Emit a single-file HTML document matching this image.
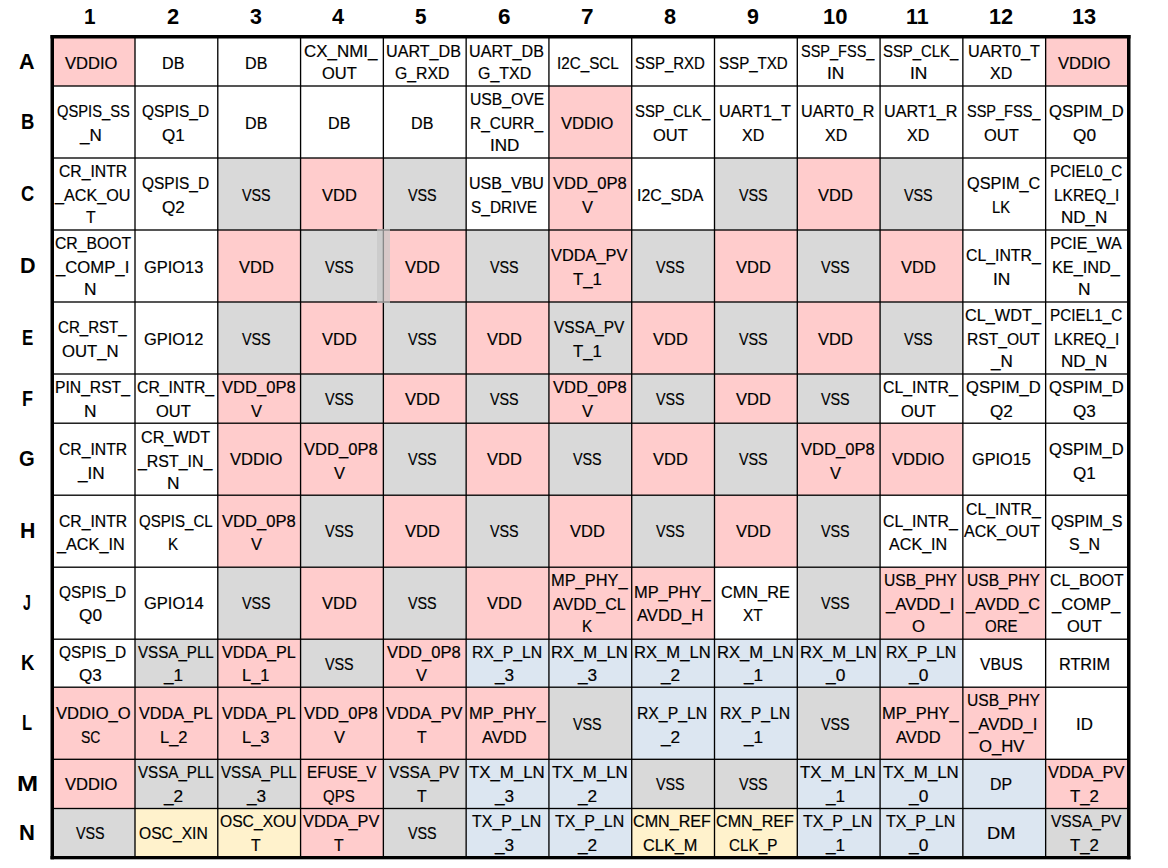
<!DOCTYPE html>
<html><head><meta charset="utf-8"><style>
html,body{margin:0;padding:0;background:#fff;}
body{width:1168px;height:868px;position:relative;overflow:hidden;font-family:"Liberation Sans",sans-serif;color:#000;}
svg{position:absolute;left:0;top:0;}
.t{position:absolute;white-space:nowrap;font-size:17.3px;line-height:20px;height:20px;transform-origin:0 50%;-webkit-text-stroke:0.2px #000;}
.h{position:absolute;font-weight:bold;font-size:22.6px;line-height:24px;white-space:nowrap;transform-origin:0 50%;}
</style></head><body>

<svg width="1168" height="868" viewBox="0 0 1168 868"><rect x="52.25" y="36.75" width="82.75" height="49.25" fill="#FFCCCC"/><rect x="1045.646" y="36.75" width="83.104" height="49.25" fill="#FFCCCC"/><rect x="548.93" y="86" width="82.786" height="72" fill="#FFCCCC"/><rect x="217.786" y="158" width="82.786" height="72" fill="#D9D9D9"/><rect x="300.572" y="158" width="82.786" height="72" fill="#FFCCCC"/><rect x="383.358" y="158" width="82.786" height="72" fill="#D9D9D9"/><rect x="548.93" y="158" width="82.786" height="72" fill="#FFCCCC"/><rect x="714.502" y="158" width="82.786" height="72" fill="#D9D9D9"/><rect x="797.288" y="158" width="82.786" height="72" fill="#FFCCCC"/><rect x="880.074" y="158" width="82.786" height="72" fill="#D9D9D9"/><rect x="217.786" y="230" width="82.786" height="72" fill="#FFCCCC"/><rect x="300.572" y="230" width="82.786" height="72" fill="#D9D9D9"/><rect x="383.358" y="230" width="82.786" height="72" fill="#FFCCCC"/><rect x="466.144" y="230" width="82.786" height="72" fill="#D9D9D9"/><rect x="548.93" y="230" width="82.786" height="72" fill="#FFCCCC"/><rect x="631.716" y="230" width="82.786" height="72" fill="#D9D9D9"/><rect x="714.502" y="230" width="82.786" height="72" fill="#FFCCCC"/><rect x="797.288" y="230" width="82.786" height="72" fill="#D9D9D9"/><rect x="880.074" y="230" width="82.786" height="72" fill="#FFCCCC"/><rect x="217.786" y="302" width="82.786" height="72" fill="#D9D9D9"/><rect x="300.572" y="302" width="82.786" height="72" fill="#FFCCCC"/><rect x="383.358" y="302" width="82.786" height="72" fill="#D9D9D9"/><rect x="466.144" y="302" width="82.786" height="72" fill="#FFCCCC"/><rect x="548.93" y="302" width="82.786" height="72" fill="#D9D9D9"/><rect x="631.716" y="302" width="82.786" height="72" fill="#FFCCCC"/><rect x="714.502" y="302" width="82.786" height="72" fill="#D9D9D9"/><rect x="797.288" y="302" width="82.786" height="72" fill="#FFCCCC"/><rect x="880.074" y="302" width="82.786" height="72" fill="#D9D9D9"/><rect x="217.786" y="374" width="82.786" height="49.2" fill="#FFCCCC"/><rect x="300.572" y="374" width="82.786" height="49.2" fill="#D9D9D9"/><rect x="383.358" y="374" width="82.786" height="49.2" fill="#FFCCCC"/><rect x="466.144" y="374" width="82.786" height="49.2" fill="#D9D9D9"/><rect x="548.93" y="374" width="82.786" height="49.2" fill="#FFCCCC"/><rect x="631.716" y="374" width="82.786" height="49.2" fill="#D9D9D9"/><rect x="714.502" y="374" width="82.786" height="49.2" fill="#FFCCCC"/><rect x="797.288" y="374" width="82.786" height="49.2" fill="#D9D9D9"/><rect x="217.786" y="423.2" width="82.786" height="72" fill="#FFCCCC"/><rect x="300.572" y="423.2" width="82.786" height="72" fill="#FFCCCC"/><rect x="383.358" y="423.2" width="82.786" height="72" fill="#D9D9D9"/><rect x="466.144" y="423.2" width="82.786" height="72" fill="#FFCCCC"/><rect x="548.93" y="423.2" width="82.786" height="72" fill="#D9D9D9"/><rect x="631.716" y="423.2" width="82.786" height="72" fill="#FFCCCC"/><rect x="714.502" y="423.2" width="82.786" height="72" fill="#D9D9D9"/><rect x="797.288" y="423.2" width="82.786" height="72" fill="#FFCCCC"/><rect x="880.074" y="423.2" width="82.786" height="72" fill="#FFCCCC"/><rect x="217.786" y="495.2" width="82.786" height="72" fill="#FFCCCC"/><rect x="300.572" y="495.2" width="82.786" height="72" fill="#D9D9D9"/><rect x="383.358" y="495.2" width="82.786" height="72" fill="#FFCCCC"/><rect x="466.144" y="495.2" width="82.786" height="72" fill="#D9D9D9"/><rect x="548.93" y="495.2" width="82.786" height="72" fill="#FFCCCC"/><rect x="631.716" y="495.2" width="82.786" height="72" fill="#D9D9D9"/><rect x="714.502" y="495.2" width="82.786" height="72" fill="#FFCCCC"/><rect x="797.288" y="495.2" width="82.786" height="72" fill="#D9D9D9"/><rect x="217.786" y="567.2" width="82.786" height="72" fill="#D9D9D9"/><rect x="300.572" y="567.2" width="82.786" height="72" fill="#FFCCCC"/><rect x="383.358" y="567.2" width="82.786" height="72" fill="#D9D9D9"/><rect x="466.144" y="567.2" width="82.786" height="72" fill="#FFCCCC"/><rect x="548.93" y="567.2" width="82.786" height="72" fill="#FFCCCC"/><rect x="631.716" y="567.2" width="82.786" height="72" fill="#FFCCCC"/><rect x="797.288" y="567.2" width="82.786" height="72" fill="#D9D9D9"/><rect x="880.074" y="567.2" width="82.786" height="72" fill="#FFCCCC"/><rect x="962.86" y="567.2" width="82.786" height="72" fill="#FFCCCC"/><rect x="135" y="639.2" width="82.786" height="48" fill="#D9D9D9"/><rect x="217.786" y="639.2" width="82.786" height="48" fill="#FFCCCC"/><rect x="300.572" y="639.2" width="82.786" height="48" fill="#D9D9D9"/><rect x="383.358" y="639.2" width="82.786" height="48" fill="#FFCCCC"/><rect x="466.144" y="639.2" width="82.786" height="48" fill="#DCE6F1"/><rect x="548.93" y="639.2" width="82.786" height="48" fill="#DCE6F1"/><rect x="631.716" y="639.2" width="82.786" height="48" fill="#DCE6F1"/><rect x="714.502" y="639.2" width="82.786" height="48" fill="#DCE6F1"/><rect x="797.288" y="639.2" width="82.786" height="48" fill="#DCE6F1"/><rect x="880.074" y="639.2" width="82.786" height="48" fill="#DCE6F1"/><rect x="52.25" y="687.2" width="82.75" height="72.1" fill="#FFCCCC"/><rect x="135" y="687.2" width="82.786" height="72.1" fill="#FFCCCC"/><rect x="217.786" y="687.2" width="82.786" height="72.1" fill="#FFCCCC"/><rect x="300.572" y="687.2" width="82.786" height="72.1" fill="#FFCCCC"/><rect x="383.358" y="687.2" width="82.786" height="72.1" fill="#FFCCCC"/><rect x="466.144" y="687.2" width="82.786" height="72.1" fill="#FFCCCC"/><rect x="548.93" y="687.2" width="82.786" height="72.1" fill="#D9D9D9"/><rect x="631.716" y="687.2" width="82.786" height="72.1" fill="#DCE6F1"/><rect x="714.502" y="687.2" width="82.786" height="72.1" fill="#DCE6F1"/><rect x="797.288" y="687.2" width="82.786" height="72.1" fill="#D9D9D9"/><rect x="880.074" y="687.2" width="82.786" height="72.1" fill="#FFCCCC"/><rect x="962.86" y="687.2" width="82.786" height="72.1" fill="#FFCCCC"/><rect x="52.25" y="759.3" width="82.75" height="49.2" fill="#FFCCCC"/><rect x="135" y="759.3" width="82.786" height="49.2" fill="#D9D9D9"/><rect x="217.786" y="759.3" width="82.786" height="49.2" fill="#D9D9D9"/><rect x="300.572" y="759.3" width="82.786" height="49.2" fill="#FFCCCC"/><rect x="383.358" y="759.3" width="82.786" height="49.2" fill="#D9D9D9"/><rect x="466.144" y="759.3" width="82.786" height="49.2" fill="#DCE6F1"/><rect x="548.93" y="759.3" width="82.786" height="49.2" fill="#DCE6F1"/><rect x="631.716" y="759.3" width="82.786" height="49.2" fill="#D9D9D9"/><rect x="714.502" y="759.3" width="82.786" height="49.2" fill="#D9D9D9"/><rect x="797.288" y="759.3" width="82.786" height="49.2" fill="#DCE6F1"/><rect x="880.074" y="759.3" width="82.786" height="49.2" fill="#DCE6F1"/><rect x="962.86" y="759.3" width="82.786" height="49.2" fill="#DCE6F1"/><rect x="1045.646" y="759.3" width="83.104" height="49.2" fill="#FFCCCC"/><rect x="52.25" y="808.5" width="82.75" height="49.15" fill="#D9D9D9"/><rect x="135" y="808.5" width="82.786" height="49.15" fill="#FFF2CC"/><rect x="217.786" y="808.5" width="82.786" height="49.15" fill="#FFF2CC"/><rect x="300.572" y="808.5" width="82.786" height="49.15" fill="#FFCCCC"/><rect x="383.358" y="808.5" width="82.786" height="49.15" fill="#D9D9D9"/><rect x="466.144" y="808.5" width="82.786" height="49.15" fill="#DCE6F1"/><rect x="548.93" y="808.5" width="82.786" height="49.15" fill="#DCE6F1"/><rect x="631.716" y="808.5" width="82.786" height="49.15" fill="#FFF2CC"/><rect x="714.502" y="808.5" width="82.786" height="49.15" fill="#FFF2CC"/><rect x="797.288" y="808.5" width="82.786" height="49.15" fill="#DCE6F1"/><rect x="880.074" y="808.5" width="82.786" height="49.15" fill="#DCE6F1"/><rect x="962.86" y="808.5" width="82.786" height="49.15" fill="#DCE6F1"/><rect x="1045.646" y="808.5" width="83.104" height="49.15" fill="#D9D9D9"/><rect x="134.335" y="36.75" width="1.33" height="820.9" fill="#000"/><rect x="217.121" y="36.75" width="1.33" height="820.9" fill="#000"/><rect x="299.907" y="36.75" width="1.33" height="820.9" fill="#000"/><rect x="382.693" y="36.75" width="1.33" height="820.9" fill="#000"/><rect x="465.479" y="36.75" width="1.33" height="820.9" fill="#000"/><rect x="548.265" y="36.75" width="1.33" height="820.9" fill="#000"/><rect x="631.051" y="36.75" width="1.33" height="820.9" fill="#000"/><rect x="713.837" y="36.75" width="1.33" height="820.9" fill="#000"/><rect x="796.623" y="36.75" width="1.33" height="820.9" fill="#000"/><rect x="879.409" y="36.75" width="1.33" height="820.9" fill="#000"/><rect x="962.195" y="36.75" width="1.33" height="820.9" fill="#000"/><rect x="1044.981" y="36.75" width="1.33" height="820.9" fill="#000"/><rect x="52.25" y="85.335" width="1076.5" height="1.33" fill="#000"/><rect x="52.25" y="157.335" width="1076.5" height="1.33" fill="#000"/><rect x="52.25" y="229.335" width="1076.5" height="1.33" fill="#000"/><rect x="52.25" y="301.335" width="1076.5" height="1.33" fill="#000"/><rect x="52.25" y="373.335" width="1076.5" height="1.33" fill="#000"/><rect x="52.25" y="422.535" width="1076.5" height="1.33" fill="#000"/><rect x="52.25" y="494.535" width="1076.5" height="1.33" fill="#000"/><rect x="52.25" y="566.535" width="1076.5" height="1.33" fill="#000"/><rect x="52.25" y="638.535" width="1076.5" height="1.33" fill="#000"/><rect x="52.25" y="686.535" width="1076.5" height="1.33" fill="#000"/><rect x="52.25" y="758.635" width="1076.5" height="1.33" fill="#000"/><rect x="52.25" y="807.835" width="1076.5" height="1.33" fill="#000"/><rect x="377" y="229" width="13" height="74" fill="rgb(198,198,198)" fill-opacity="0.686"/><rect x="50.5" y="35" width="1080" height="3.5" fill="#000"/><rect x="50.5" y="856" width="1080" height="3.3" fill="#000"/><rect x="50.5" y="35" width="3.5" height="824.3" fill="#000"/><rect x="1127" y="35" width="3.5" height="824.3" fill="#000"/></svg>
<div class="t" style="left:64.559px;top:53px;transform:scaleX(0.958)">VDDIO</div>
<div class="t" style="left:162.314px;top:53px;transform:scaleX(0.932)">DB</div>
<div class="t" style="left:245.1px;top:53px;transform:scaleX(0.932)">DB</div>
<div class="t" style="left:304.359px;top:41px;transform:scaleX(0.979)">CX_NMI_</div>
<div class="t" style="left:321.699px;top:63px;transform:scaleX(0.954)">OUT</div>
<div class="t" style="left:386.415px;top:41px;transform:scaleX(0.933)">UART_DB</div>
<div class="t" style="left:394.724px;top:63px;transform:scaleX(0.912)">G_RXD</div>
<div class="t" style="left:469.201px;top:41px;transform:scaleX(0.933)">UART_DB</div>
<div class="t" style="left:478.037px;top:63px;transform:scaleX(0.924)">G_TXD</div>
<div class="t" style="left:556.7px;top:53px;transform:scaleX(0.881)">I2C_SCL</div>
<div class="t" style="left:635.223px;top:53px;transform:scaleX(0.866)">SSP_RXD</div>
<div class="t" style="left:718.54px;top:53px;transform:scaleX(0.873)">SSP_TXD</div>
<div class="t" style="left:801.072px;top:41px;transform:scaleX(0.84)">SSP_FSS_</div>
<div class="t" style="left:827.111px;top:63px;transform:scaleX(1.004)">IN</div>
<div class="t" style="left:882.928px;top:41px;transform:scaleX(0.861)">SSP_CLK_</div>
<div class="t" style="left:909.897px;top:63px;transform:scaleX(1.004)">IN</div>
<div class="t" style="left:967.5px;top:41px;transform:scaleX(0.94)">UART0_T</div>
<div class="t" style="left:990.171px;top:63px;transform:scaleX(0.927)">XD</div>
<div class="t" style="left:1058.132px;top:53px;transform:scaleX(0.958)">VDDIO</div>
<div class="t" style="left:56.559px;top:101px;transform:scaleX(0.851)">QSPIS_SS</div>
<div class="t" style="left:79.968px;top:125px;transform:scaleX(0.986)">_N</div>
<div class="t" style="left:142.222px;top:101px;transform:scaleX(0.895)">QSPIS_D</div>
<div class="t" style="left:162.103px;top:125px;transform:scaleX(0.986)">Q1</div>
<div class="t" style="left:245.1px;top:113px;transform:scaleX(0.932)">DB</div>
<div class="t" style="left:327.886px;top:113px;transform:scaleX(0.932)">DB</div>
<div class="t" style="left:410.672px;top:113px;transform:scaleX(0.932)">DB</div>
<div class="t" style="left:469.686px;top:89px;transform:scaleX(0.909)">USB_OVE</div>
<div class="t" style="left:470.286px;top:113px;transform:scaleX(0.894)">R_CURR_</div>
<div class="t" style="left:490.059px;top:135px;transform:scaleX(0.986)">IND</div>
<div class="t" style="left:561.257px;top:113px;transform:scaleX(0.958)">VDDIO</div>
<div class="t" style="left:634.57px;top:101px;transform:scaleX(0.861)">SSP_CLK_</div>
<div class="t" style="left:652.843px;top:125px;transform:scaleX(0.954)">OUT</div>
<div class="t" style="left:719.142px;top:101px;transform:scaleX(0.94)">UART1_T</div>
<div class="t" style="left:741.813px;top:125px;transform:scaleX(0.927)">XD</div>
<div class="t" style="left:801.398px;top:101px;transform:scaleX(0.935)">UART0_R</div>
<div class="t" style="left:824.599px;top:125px;transform:scaleX(0.927)">XD</div>
<div class="t" style="left:884.184px;top:101px;transform:scaleX(0.935)">UART1_R</div>
<div class="t" style="left:907.385px;top:125px;transform:scaleX(0.927)">XD</div>
<div class="t" style="left:966.644px;top:101px;transform:scaleX(0.84)">SSP_FSS_</div>
<div class="t" style="left:983.987px;top:125px;transform:scaleX(0.954)">OUT</div>
<div class="t" style="left:1049.155px;top:101px;transform:scaleX(0.961)">QSPIM_D</div>
<div class="t" style="left:1072.9px;top:125px;transform:scaleX(0.996)">Q0</div>
<div class="t" style="left:58.963px;top:161px;transform:scaleX(0.91)">CR_INTR</div>
<div class="t" style="left:55.234px;top:185px;transform:scaleX(0.936)">_ACK_OU</div>
<div class="t" style="left:85.913px;top:207px;transform:scaleX(0.915)">T</div>
<div class="t" style="left:142.222px;top:173px;transform:scaleX(0.895)">QSPIS_D</div>
<div class="t" style="left:162.1px;top:197px;transform:scaleX(0.99)">Q2</div>
<div class="t" style="left:241.95px;top:185px;transform:scaleX(0.828)">VSS</div>
<div class="t" style="left:321.72px;top:185px;transform:scaleX(0.954)">VDD</div>
<div class="t" style="left:407.522px;top:185px;transform:scaleX(0.828)">VSS</div>
<div class="t" style="left:469.32px;top:173px;transform:scaleX(0.929)">USB_VBU</div>
<div class="t" style="left:471.439px;top:197px;transform:scaleX(0.893)">S_DRIVE</div>
<div class="t" style="left:552.684px;top:173px;transform:scaleX(0.959)">VDD_0P8</div>
<div class="t" style="left:581.952px;top:197px;transform:scaleX(0.952)">V</div>
<div class="t" style="left:637.106px;top:185px;transform:scaleX(0.92)">I2C_SDA</div>
<div class="t" style="left:738.666px;top:185px;transform:scaleX(0.828)">VSS</div>
<div class="t" style="left:818.436px;top:185px;transform:scaleX(0.954)">VDD</div>
<div class="t" style="left:904.238px;top:185px;transform:scaleX(0.828)">VSS</div>
<div class="t" style="left:967.018px;top:173px;transform:scaleX(0.942)">QSPIM_C</div>
<div class="t" style="left:992.391px;top:197px;transform:scaleX(0.854)">LK</div>
<div class="t" style="left:1050.452px;top:161px;transform:scaleX(0.886)">PCIEL0_C</div>
<div class="t" style="left:1053.777px;top:185px;transform:scaleX(0.894)">LKREQ_I</div>
<div class="t" style="left:1061.113px;top:207px;transform:scaleX(0.985)">ND_N</div>
<div class="t" style="left:54.835px;top:233px;transform:scaleX(0.911)">CR_BOOT</div>
<div class="t" style="left:56.364px;top:257px;transform:scaleX(0.966)">_COMP_I</div>
<div class="t" style="left:84.491px;top:279px;transform:scaleX(1.001)">N</div>
<div class="t" style="left:143.736px;top:257px;transform:scaleX(0.951)">GPIO13</div>
<div class="t" style="left:238.934px;top:257px;transform:scaleX(0.954)">VDD</div>
<div class="t" style="left:324.736px;top:257px;transform:scaleX(0.828)">VSS</div>
<div class="t" style="left:404.506px;top:257px;transform:scaleX(0.954)">VDD</div>
<div class="t" style="left:490.308px;top:257px;transform:scaleX(0.828)">VSS</div>
<div class="t" style="left:551.408px;top:245px;transform:scaleX(0.946)">VDDA_PV</div>
<div class="t" style="left:572.893px;top:269px;transform:scaleX(0.97)">T_1</div>
<div class="t" style="left:655.88px;top:257px;transform:scaleX(0.828)">VSS</div>
<div class="t" style="left:735.65px;top:257px;transform:scaleX(0.954)">VDD</div>
<div class="t" style="left:821.452px;top:257px;transform:scaleX(0.828)">VSS</div>
<div class="t" style="left:901.222px;top:257px;transform:scaleX(0.954)">VDD</div>
<div class="t" style="left:965.963px;top:245px;transform:scaleX(0.916)">CL_INTR_</div>
<div class="t" style="left:992.683px;top:269px;transform:scaleX(1.004)">IN</div>
<div class="t" style="left:1050.315px;top:233px;transform:scaleX(0.93)">PCIE_WA</div>
<div class="t" style="left:1052.396px;top:257px;transform:scaleX(0.941)">KE_IND_</div>
<div class="t" style="left:1078.064px;top:279px;transform:scaleX(1.001)">N</div>
<div class="t" style="left:58.417px;top:317px;transform:scaleX(0.872)">CR_RST_</div>
<div class="t" style="left:62.312px;top:341px;transform:scaleX(0.967)">OUT_N</div>
<div class="t" style="left:143.735px;top:329px;transform:scaleX(0.951)">GPIO12</div>
<div class="t" style="left:241.95px;top:329px;transform:scaleX(0.828)">VSS</div>
<div class="t" style="left:321.72px;top:329px;transform:scaleX(0.954)">VDD</div>
<div class="t" style="left:407.522px;top:329px;transform:scaleX(0.828)">VSS</div>
<div class="t" style="left:487.292px;top:329px;transform:scaleX(0.954)">VDD</div>
<div class="t" style="left:554.418px;top:317px;transform:scaleX(0.893)">VSSA_PV</div>
<div class="t" style="left:572.893px;top:341px;transform:scaleX(0.97)">T_1</div>
<div class="t" style="left:652.864px;top:329px;transform:scaleX(0.954)">VDD</div>
<div class="t" style="left:738.666px;top:329px;transform:scaleX(0.828)">VSS</div>
<div class="t" style="left:818.436px;top:329px;transform:scaleX(0.954)">VDD</div>
<div class="t" style="left:904.238px;top:329px;transform:scaleX(0.828)">VSS</div>
<div class="t" style="left:965.317px;top:305px;transform:scaleX(0.942)">CL_WDT_</div>
<div class="t" style="left:967.19px;top:329px;transform:scaleX(0.904)">RST_OUT</div>
<div class="t" style="left:990.596px;top:351px;transform:scaleX(0.986)">_N</div>
<div class="t" style="left:1050.452px;top:305px;transform:scaleX(0.886)">PCIEL1_C</div>
<div class="t" style="left:1053.777px;top:329px;transform:scaleX(0.894)">LKREQ_I</div>
<div class="t" style="left:1061.113px;top:351px;transform:scaleX(0.985)">ND_N</div>
<div class="t" style="left:55.389px;top:377px;transform:scaleX(0.907)">PIN_RST_</div>
<div class="t" style="left:84.491px;top:401px;transform:scaleX(1.001)">N</div>
<div class="t" style="left:136.923px;top:377px;transform:scaleX(0.913)">CR_INTR_</div>
<div class="t" style="left:156.127px;top:401px;transform:scaleX(0.954)">OUT</div>
<div class="t" style="left:221.54px;top:377px;transform:scaleX(0.959)">VDD_0P8</div>
<div class="t" style="left:250.808px;top:401px;transform:scaleX(0.952)">V</div>
<div class="t" style="left:324.736px;top:389px;transform:scaleX(0.828)">VSS</div>
<div class="t" style="left:404.506px;top:389px;transform:scaleX(0.954)">VDD</div>
<div class="t" style="left:490.308px;top:389px;transform:scaleX(0.828)">VSS</div>
<div class="t" style="left:552.684px;top:377px;transform:scaleX(0.959)">VDD_0P8</div>
<div class="t" style="left:581.952px;top:401px;transform:scaleX(0.952)">V</div>
<div class="t" style="left:655.88px;top:389px;transform:scaleX(0.828)">VSS</div>
<div class="t" style="left:735.65px;top:389px;transform:scaleX(0.954)">VDD</div>
<div class="t" style="left:821.452px;top:389px;transform:scaleX(0.828)">VSS</div>
<div class="t" style="left:883.177px;top:377px;transform:scaleX(0.916)">CL_INTR_</div>
<div class="t" style="left:901.201px;top:401px;transform:scaleX(0.954)">OUT</div>
<div class="t" style="left:966.21px;top:377px;transform:scaleX(0.961)">QSPIM_D</div>
<div class="t" style="left:989.96px;top:401px;transform:scaleX(0.99)">Q2</div>
<div class="t" style="left:1049.155px;top:377px;transform:scaleX(0.961)">QSPIM_D</div>
<div class="t" style="left:1072.906px;top:401px;transform:scaleX(0.988)">Q3</div>
<div class="t" style="left:58.963px;top:439px;transform:scaleX(0.91)">CR_INTR</div>
<div class="t" style="left:77.538px;top:463px;transform:scaleX(0.991)">_IN</div>
<div class="t" style="left:141.087px;top:427px;transform:scaleX(0.935)">CR_WDT</div>
<div class="t" style="left:138.48px;top:451px;transform:scaleX(0.922)">_RST_IN_</div>
<div class="t" style="left:167.259px;top:473px;transform:scaleX(1.001)">N</div>
<div class="t" style="left:230.113px;top:449px;transform:scaleX(0.958)">VDDIO</div>
<div class="t" style="left:304.326px;top:439px;transform:scaleX(0.959)">VDD_0P8</div>
<div class="t" style="left:333.594px;top:463px;transform:scaleX(0.952)">V</div>
<div class="t" style="left:407.522px;top:449px;transform:scaleX(0.828)">VSS</div>
<div class="t" style="left:487.292px;top:449px;transform:scaleX(0.954)">VDD</div>
<div class="t" style="left:573.094px;top:449px;transform:scaleX(0.828)">VSS</div>
<div class="t" style="left:652.864px;top:449px;transform:scaleX(0.954)">VDD</div>
<div class="t" style="left:738.666px;top:449px;transform:scaleX(0.828)">VSS</div>
<div class="t" style="left:801.042px;top:439px;transform:scaleX(0.959)">VDD_0P8</div>
<div class="t" style="left:830.31px;top:463px;transform:scaleX(0.952)">V</div>
<div class="t" style="left:892.401px;top:449px;transform:scaleX(0.958)">VDDIO</div>
<div class="t" style="left:971.602px;top:449px;transform:scaleX(0.944)">GPIO15</div>
<div class="t" style="left:1049.155px;top:439px;transform:scaleX(0.961)">QSPIM_D</div>
<div class="t" style="left:1072.908px;top:463px;transform:scaleX(0.986)">Q1</div>
<div class="t" style="left:58.963px;top:511px;transform:scaleX(0.91)">CR_INTR</div>
<div class="t" style="left:56.976px;top:534px;transform:scaleX(0.939)">_ACK_IN</div>
<div class="t" style="left:138.976px;top:511px;transform:scaleX(0.871)">QSPIS_CL</div>
<div class="t" style="left:168.422px;top:534px;transform:scaleX(0.878)">K</div>
<div class="t" style="left:221.54px;top:511px;transform:scaleX(0.959)">VDD_0P8</div>
<div class="t" style="left:250.808px;top:534px;transform:scaleX(0.952)">V</div>
<div class="t" style="left:324.736px;top:521px;transform:scaleX(0.828)">VSS</div>
<div class="t" style="left:404.506px;top:521px;transform:scaleX(0.954)">VDD</div>
<div class="t" style="left:490.308px;top:521px;transform:scaleX(0.828)">VSS</div>
<div class="t" style="left:570.078px;top:521px;transform:scaleX(0.954)">VDD</div>
<div class="t" style="left:655.88px;top:521px;transform:scaleX(0.828)">VSS</div>
<div class="t" style="left:735.65px;top:521px;transform:scaleX(0.954)">VDD</div>
<div class="t" style="left:821.452px;top:521px;transform:scaleX(0.828)">VSS</div>
<div class="t" style="left:883.177px;top:511px;transform:scaleX(0.916)">CL_INTR_</div>
<div class="t" style="left:889.422px;top:534px;transform:scaleX(0.933)">ACK_IN</div>
<div class="t" style="left:965.963px;top:499px;transform:scaleX(0.916)">CL_INTR_</div>
<div class="t" style="left:963.585px;top:521px;transform:scaleX(0.927)">ACK_OUT</div>
<div class="t" style="left:1050.682px;top:511px;transform:scaleX(0.932)">QSPIM_S</div>
<div class="t" style="left:1068.642px;top:534px;transform:scaleX(0.923)">S_N</div>
<div class="t" style="left:59.454px;top:582px;transform:scaleX(0.895)">QSPIS_D</div>
<div class="t" style="left:79.327px;top:605px;transform:scaleX(0.996)">Q0</div>
<div class="t" style="left:143.733px;top:593px;transform:scaleX(0.954)">GPIO14</div>
<div class="t" style="left:241.95px;top:593px;transform:scaleX(0.828)">VSS</div>
<div class="t" style="left:321.72px;top:593px;transform:scaleX(0.954)">VDD</div>
<div class="t" style="left:407.522px;top:593px;transform:scaleX(0.828)">VSS</div>
<div class="t" style="left:487.292px;top:593px;transform:scaleX(0.954)">VDD</div>
<div class="t" style="left:551.301px;top:570px;transform:scaleX(0.949)">MP_PHY_</div>
<div class="t" style="left:552.726px;top:594px;transform:scaleX(0.928)">AVDD_CL</div>
<div class="t" style="left:582.352px;top:616px;transform:scaleX(0.878)">K</div>
<div class="t" style="left:634.087px;top:582px;transform:scaleX(0.949)">MP_PHY_</div>
<div class="t" style="left:636.52px;top:605px;transform:scaleX(0.962)">AVDD_H</div>
<div class="t" style="left:720.616px;top:582px;transform:scaleX(0.943)">CMN_RE</div>
<div class="t" style="left:743.059px;top:605px;transform:scaleX(0.895)">XT</div>
<div class="t" style="left:821.452px;top:593px;transform:scaleX(0.828)">VSS</div>
<div class="t" style="left:884.499px;top:570px;transform:scaleX(0.904)">USB_PHY</div>
<div class="t" style="left:886.043px;top:594px;transform:scaleX(0.966)">_AVDD_I</div>
<div class="t" style="left:912.084px;top:616px;transform:scaleX(0.967)">O</div>
<div class="t" style="left:967.285px;top:570px;transform:scaleX(0.904)">USB_PHY</div>
<div class="t" style="left:966.11px;top:594px;transform:scaleX(0.945)">_AVDD_C</div>
<div class="t" style="left:984.999px;top:616px;transform:scaleX(0.868)">ORE</div>
<div class="t" style="left:1049.588px;top:570px;transform:scaleX(0.914)">CL_BOOT</div>
<div class="t" style="left:1052.367px;top:594px;transform:scaleX(0.96)">_COMP_</div>
<div class="t" style="left:1066.932px;top:616px;transform:scaleX(0.954)">OUT</div>
<div class="t" style="left:59.454px;top:642px;transform:scaleX(0.895)">QSPIS_D</div>
<div class="t" style="left:79.333px;top:665px;transform:scaleX(0.988)">Q3</div>
<div class="t" style="left:137.851px;top:642px;transform:scaleX(0.876)">VSSA_PLL</div>
<div class="t" style="left:164.076px;top:665px;transform:scaleX(0.993)">_1</div>
<div class="t" style="left:221.683px;top:642px;transform:scaleX(0.936)">VDDA_PL</div>
<div class="t" style="left:242.493px;top:665px;transform:scaleX(0.953)">L_1</div>
<div class="t" style="left:324.736px;top:654px;transform:scaleX(0.828)">VSS</div>
<div class="t" style="left:387.112px;top:642px;transform:scaleX(0.959)">VDD_0P8</div>
<div class="t" style="left:416.38px;top:665px;transform:scaleX(0.952)">V</div>
<div class="t" style="left:471.798px;top:642px;transform:scaleX(0.911)">RX_P_LN</div>
<div class="t" style="left:495.221px;top:665px;transform:scaleX(0.995)">_3</div>
<div class="t" style="left:551.246px;top:642px;transform:scaleX(0.962)">RX_M_LN</div>
<div class="t" style="left:578.007px;top:665px;transform:scaleX(0.995)">_3</div>
<div class="t" style="left:634.032px;top:642px;transform:scaleX(0.962)">RX_M_LN</div>
<div class="t" style="left:660.793px;top:665px;transform:scaleX(0.997)">_2</div>
<div class="t" style="left:716.818px;top:642px;transform:scaleX(0.962)">RX_M_LN</div>
<div class="t" style="left:743.578px;top:665px;transform:scaleX(0.993)">_1</div>
<div class="t" style="left:799.604px;top:642px;transform:scaleX(0.962)">RX_M_LN</div>
<div class="t" style="left:826.367px;top:665px;transform:scaleX(1.003)">_0</div>
<div class="t" style="left:885.728px;top:642px;transform:scaleX(0.911)">RX_P_LN</div>
<div class="t" style="left:909.153px;top:665px;transform:scaleX(1.003)">_0</div>
<div class="t" style="left:980.011px;top:654px;transform:scaleX(0.908)">VBUS</div>
<div class="t" style="left:1058.507px;top:654px;transform:scaleX(0.939)">RTRIM</div>
<div class="t" style="left:55.543px;top:703px;transform:scaleX(0.961)">VDDIO_O</div>
<div class="t" style="left:81.049px;top:727px;transform:scaleX(0.809)">SC</div>
<div class="t" style="left:138.897px;top:703px;transform:scaleX(0.936)">VDDA_PL</div>
<div class="t" style="left:159.704px;top:727px;transform:scaleX(0.955)">L_2</div>
<div class="t" style="left:221.683px;top:703px;transform:scaleX(0.936)">VDDA_PL</div>
<div class="t" style="left:242.491px;top:727px;transform:scaleX(0.955)">L_3</div>
<div class="t" style="left:304.326px;top:703px;transform:scaleX(0.959)">VDD_0P8</div>
<div class="t" style="left:333.594px;top:727px;transform:scaleX(0.952)">V</div>
<div class="t" style="left:385.836px;top:703px;transform:scaleX(0.946)">VDDA_PV</div>
<div class="t" style="left:417.039px;top:727px;transform:scaleX(0.915)">T</div>
<div class="t" style="left:468.515px;top:703px;transform:scaleX(0.949)">MP_PHY_</div>
<div class="t" style="left:481.767px;top:727px;transform:scaleX(0.956)">AVDD</div>
<div class="t" style="left:573.094px;top:714px;transform:scaleX(0.828)">VSS</div>
<div class="t" style="left:637.37px;top:703px;transform:scaleX(0.911)">RX_P_LN</div>
<div class="t" style="left:660.793px;top:727px;transform:scaleX(0.997)">_2</div>
<div class="t" style="left:720.156px;top:703px;transform:scaleX(0.911)">RX_P_LN</div>
<div class="t" style="left:743.578px;top:727px;transform:scaleX(0.993)">_1</div>
<div class="t" style="left:821.452px;top:714px;transform:scaleX(0.828)">VSS</div>
<div class="t" style="left:882.445px;top:703px;transform:scaleX(0.949)">MP_PHY_</div>
<div class="t" style="left:895.697px;top:727px;transform:scaleX(0.956)">AVDD</div>
<div class="t" style="left:967.285px;top:690px;transform:scaleX(0.904)">USB_PHY</div>
<div class="t" style="left:968.829px;top:714px;transform:scaleX(0.966)">_AVDD_I</div>
<div class="t" style="left:978.577px;top:736px;transform:scaleX(0.966)">O_HV</div>
<div class="t" style="left:1075.965px;top:714px;transform:scaleX(0.976)">ID</div>
<div class="t" style="left:64.559px;top:774px;transform:scaleX(0.958)">VDDIO</div>
<div class="t" style="left:137.851px;top:762px;transform:scaleX(0.876)">VSSA_PLL</div>
<div class="t" style="left:164.077px;top:786px;transform:scaleX(0.997)">_2</div>
<div class="t" style="left:220.637px;top:762px;transform:scaleX(0.876)">VSSA_PLL</div>
<div class="t" style="left:246.863px;top:786px;transform:scaleX(0.995)">_3</div>
<div class="t" style="left:306.617px;top:762px;transform:scaleX(0.881)">EFUSE_V</div>
<div class="t" style="left:323.243px;top:786px;transform:scaleX(0.869)">QPS</div>
<div class="t" style="left:388.846px;top:762px;transform:scaleX(0.893)">VSSA_PV</div>
<div class="t" style="left:417.039px;top:786px;transform:scaleX(0.915)">T</div>
<div class="t" style="left:468.824px;top:762px;transform:scaleX(0.974)">TX_M_LN</div>
<div class="t" style="left:495.221px;top:786px;transform:scaleX(0.995)">_3</div>
<div class="t" style="left:551.61px;top:762px;transform:scaleX(0.974)">TX_M_LN</div>
<div class="t" style="left:578.007px;top:786px;transform:scaleX(0.997)">_2</div>
<div class="t" style="left:655.88px;top:774px;transform:scaleX(0.828)">VSS</div>
<div class="t" style="left:738.666px;top:774px;transform:scaleX(0.828)">VSS</div>
<div class="t" style="left:799.968px;top:762px;transform:scaleX(0.974)">TX_M_LN</div>
<div class="t" style="left:826.364px;top:786px;transform:scaleX(0.993)">_1</div>
<div class="t" style="left:882.754px;top:762px;transform:scaleX(0.974)">TX_M_LN</div>
<div class="t" style="left:909.153px;top:786px;transform:scaleX(1.003)">_0</div>
<div class="t" style="left:990.457px;top:774px;transform:scaleX(0.918)">DP</div>
<div class="t" style="left:1048.283px;top:762px;transform:scaleX(0.946)">VDDA_PV</div>
<div class="t" style="left:1069.767px;top:786px;transform:scaleX(0.972)">T_2</div>
<div class="t" style="left:76.396px;top:823px;transform:scaleX(0.828)">VSS</div>
<div class="t" style="left:139.005px;top:823px;transform:scaleX(0.906)">OSC_XIN</div>
<div class="t" style="left:220.05px;top:811px;transform:scaleX(0.906)">OSC_XOU</div>
<div class="t" style="left:251.467px;top:835px;transform:scaleX(0.915)">T</div>
<div class="t" style="left:303.05px;top:811px;transform:scaleX(0.946)">VDDA_PV</div>
<div class="t" style="left:334.253px;top:835px;transform:scaleX(0.915)">T</div>
<div class="t" style="left:407.522px;top:823px;transform:scaleX(0.828)">VSS</div>
<div class="t" style="left:472.11px;top:811px;transform:scaleX(0.923)">TX_P_LN</div>
<div class="t" style="left:495.221px;top:835px;transform:scaleX(0.995)">_3</div>
<div class="t" style="left:554.896px;top:811px;transform:scaleX(0.923)">TX_P_LN</div>
<div class="t" style="left:578.007px;top:835px;transform:scaleX(0.997)">_2</div>
<div class="t" style="left:633.405px;top:811px;transform:scaleX(0.932)">CMN_REF</div>
<div class="t" style="left:642.758px;top:835px;transform:scaleX(0.945)">CLK_M</div>
<div class="t" style="left:716.191px;top:811px;transform:scaleX(0.932)">CMN_REF</div>
<div class="t" style="left:728.864px;top:835px;transform:scaleX(0.882)">CLK_P</div>
<div class="t" style="left:803.254px;top:811px;transform:scaleX(0.923)">TX_P_LN</div>
<div class="t" style="left:826.364px;top:835px;transform:scaleX(0.993)">_1</div>
<div class="t" style="left:886.04px;top:811px;transform:scaleX(0.923)">TX_P_LN</div>
<div class="t" style="left:909.153px;top:835px;transform:scaleX(1.003)">_0</div>
<div class="t" style="left:986.992px;top:823px;transform:scaleX(1.059)">DM</div>
<div class="t" style="left:1051.293px;top:811px;transform:scaleX(0.893)">VSSA_PV</div>
<div class="t" style="left:1069.767px;top:835px;transform:scaleX(0.972)">T_2</div>
<div class="h" style="left:84.371px;top:5px;transform:scaleX(0.918)">1</div>
<div class="h" style="left:166.892px;top:5px;transform:scaleX(0.967)">2</div>
<div class="h" style="left:250.028px;top:5px;transform:scaleX(0.944)">3</div>
<div class="h" style="left:332.26px;top:5px;transform:scaleX(0.96)">4</div>
<div class="h" style="left:415.256px;top:5px;transform:scaleX(0.912)">5</div>
<div class="h" style="left:497.948px;top:5px;transform:scaleX(0.993)">6</div>
<div class="h" style="left:580.764px;top:5px;transform:scaleX(0.997)">7</div>
<div class="h" style="left:663.582px;top:5px;transform:scaleX(0.962)">8</div>
<div class="h" style="left:746.903px;top:5px;transform:scaleX(0.945)">9</div>
<div class="h" style="left:823.264px;top:5px;transform:scaleX(0.976)">10</div>
<div class="h" style="left:906.093px;top:5px;transform:scaleX(0.945)">11</div>
<div class="h" style="left:988.858px;top:5px;transform:scaleX(0.96)">12</div>
<div class="h" style="left:1071.798px;top:5px;transform:scaleX(0.963)">13</div>
<div class="h" style="left:19.488px;top:50px;transform:scaleX(0.955)">A</div>
<div class="h" style="left:20.681px;top:110px;transform:scaleX(0.818)">B</div>
<div class="h" style="left:20.64px;top:182px;transform:scaleX(0.81)">C</div>
<div class="h" style="left:19.603px;top:254px;transform:scaleX(0.954)">D</div>
<div class="h" style="left:21.646px;top:326px;transform:scaleX(0.75)">E</div>
<div class="h" style="left:21.813px;top:387px;transform:scaleX(0.798)">F</div>
<div class="h" style="left:19.407px;top:447px;transform:scaleX(0.894)">G</div>
<div class="h" style="left:19.582px;top:519px;transform:scaleX(0.94)">H</div>
<div class="h" style="left:23.228px;top:591px;transform:scaleX(0.623)">J</div>
<div class="h" style="left:20.575px;top:651px;transform:scaleX(0.819)">K</div>
<div class="h" style="left:22.335px;top:711px;transform:scaleX(0.732)">L</div>
<div class="h" style="left:16.695px;top:772px;transform:scaleX(1.121)">M</div>
<div class="h" style="left:19.302px;top:821px;transform:scaleX(0.975)">N</div>
</body></html>
